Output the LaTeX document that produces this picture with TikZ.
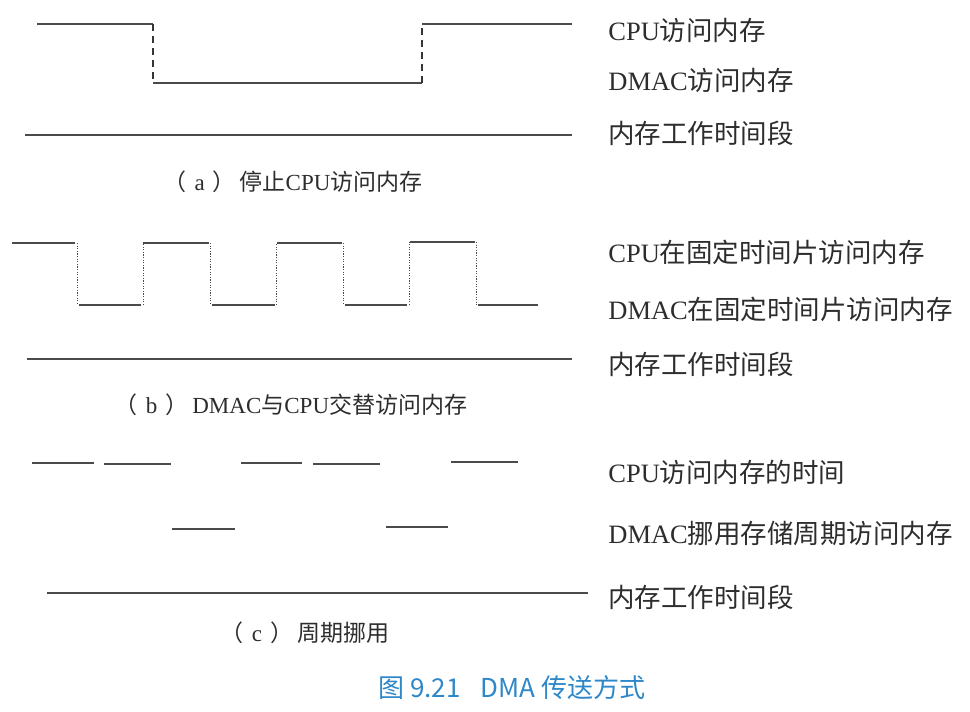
\documentclass[tikz,border=0pt]{standalone}
\usepackage{fontspec}
\setmainfont{Liberation Serif}
\newfontfamily\cjk{Noto Sans CJK SC}
\usetikzlibrary{positioning}
\definecolor{linegray}{RGB}{75,75,75}
\definecolor{textgray}{RGB}{45,45,45}
\definecolor{titleblue}{RGB}{45,135,200}
\newcommand{\zh}[1]{{\cjk #1}}
\newcommand{\tag}[1]{\zh{（}\hspace{4pt}#1\hspace{4pt}\zh{）}\hspace{2pt}}

\begin{document}
\begin{tikzpicture}[x=0.5pt, y=-0.5pt,
    level/.style={draw=linegray, line width=1.4pt},
    edge/.style={draw=linegray!70!black, line width=0.85pt, dash pattern=on 3.5pt off 2.5pt},
    slot/.style={draw=linegray, line width=0.5pt, dash pattern=on 0.6pt off 0.7pt},
    sigtext/.style={anchor=west, inner sep=0pt, text=textgray, font=\fontsize{13.25pt}{15pt}\selectfont},
    captext/.style={inner sep=0pt, text=textgray, font=\fontsize{11.5pt}{13pt}\selectfont}]
    \useasboundingbox (0,0) rectangle (970,712);

    % (a)
    \draw[level] (37,24) -- (153,24);
    \draw[edge] (153,24) -- (153,83);
    \draw[level] (153,83) -- (422,83);
    \draw[edge] (422,83) -- (422,24);
    \draw[level] (422,24) -- (572,24);
    \draw[level] (25,135) -- (572,135);

    \node[sigtext] (cpuA) at (608,30) {CPU\zh{访问内存}};
    \node[sigtext] (dmacA) at (608,80) {DMAC\zh{访问内存}};
    \node[sigtext] (memA) at (608,133) {\zh{内存工作时间段}};
    \node[captext] (capA) at (293,182) {\tag{a}\zh{停止}CPU\zh{访问内存}};

    % (b)
    \draw[level] (12,243) -- (75,243);
    \draw[slot] (77,243) -- (77,305);
    \draw[level] (79,305) -- (141,305);
    \draw[slot] (143,305) -- (143,243);
    \draw[level] (143,243) -- (209,243);
    \draw[slot] (210,243) -- (210,305);
    \draw[level] (212,305) -- (275,305);
    \draw[slot] (276,305) -- (276,243);
    \draw[level] (277,243) -- (342,243);
    \draw[slot] (343,243) -- (343,305);
    \draw[level] (345,305) -- (407,305);
    \draw[slot] (409,305) -- (409,242);
    \draw[level] (410,242) -- (475,242);
    \draw[slot] (476,242) -- (476,305);
    \draw[level] (478,305) -- (538,305);
    \draw[level] (27,359) -- (572,359);

    \node[sigtext] (cpuB) at (608,252) {CPU\zh{在固定时间片访问内存}};
    \node[sigtext] (dmacB) at (608,309) {DMAC\zh{在固定时间片访问内存}};
    \node[sigtext] (memB) at (608,364) {\zh{内存工作时间段}};
    \node[captext] (capB) at (291,405) {\tag{b}DMAC\zh{与}CPU\zh{交替访问内存}};

    % (c)
    \draw[level] (32,463) -- (94,463);
    \draw[level] (104,464) -- (171,464);
    \draw[level] (241,463) -- (302,463);
    \draw[level] (313,464) -- (380,464);
    \draw[level] (451,462) -- (518,462);
    \draw[level] (172,529) -- (235,529);
    \draw[level] (386,527) -- (448,527);
    \draw[level] (47,593) -- (588,593);

    \node[sigtext] (cpuC) at (608,472) {CPU\zh{访问内存的时间}};
    \node[sigtext] (dmacC) at (608,533) {DMAC\zh{挪用存储周期访问内存}};
    \node[sigtext] (memC) at (608,597) {\zh{内存工作时间段}};
    \node[captext] (capC) at (305,633) {\tag{c}\zh{周期挪用}};

    \node[inner sep=0pt, text=titleblue, font=\cjk\fontsize{13pt}{15pt}\selectfont] (title) at (512,688) {图 9.21\hspace{10pt}DMA 传送方式};
\end{tikzpicture}
\end{document}
